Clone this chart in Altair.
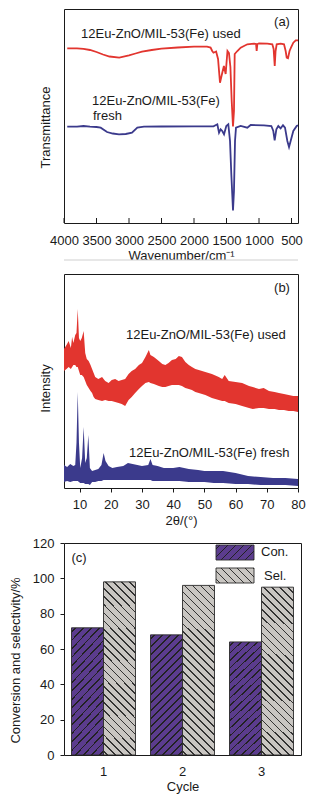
import altair as alt
import pandas as pd

FONT = "Liberation Sans"
INK = "#1a1a1a"
RED = "#e2352f"
BLUE = "#3b3a8c"
PURPLE = "#5b3c8e"
GRAY = "#c9c6c2"

# ---------------- (a) FTIR spectra (transmittance in arbitrary units) ----------------
ir_used_wn = [3950, 3800, 3700, 3600, 3500, 3400, 3300, 3150, 3000, 2900,
              2800, 2650, 2500, 2250, 2000, 1800, 1745, 1720, 1700, 1660,
              1630, 1600, 1580, 1565, 1540, 1513, 1495, 1485, 1462, 1440,
              1420, 1400, 1385, 1374, 1333, 1282, 1180, 1077, 1045, 1036,
              1025, 1000, 872, 795, 775, 758, 745, 728, 667, 615,
              590, 574, 554, 530, 508, 472, 435, 400]
ir_used_t = [174.7, 174.7, 174.2, 173, 171, 168.5, 166.5, 165.3, 167.7, 169.5,
             171.3, 173, 174.3, 175.5, 176.3, 176.3, 175.5, 172, 170.3, 171.5,
             164, 140.3, 146, 150.3, 157, 149, 164, 172, 170, 156,
             122, 96.5, 112, 169, 172, 175.3, 178.7, 179.3, 179, 172,
             179, 179.7, 179.3, 178.7, 174, 157, 172, 178.7, 179.3, 178.7,
             172, 165.3, 164.7, 172, 175.3, 180.3, 182.7, 182.7]
ir_fresh_wn = [3950, 3800, 3700, 3600, 3500, 3436, 3338, 3250, 3154, 3050,
               2954, 2872, 2770, 2500, 2000, 1700, 1641, 1615, 1590, 1565,
               1538, 1503, 1472, 1446, 1426, 1400, 1385, 1369, 1354, 1282,
               1180, 1128, 923, 810, 780, 759, 733, 703, 667, 631,
               600, 564, 538, 513, 472, 420, 400]
ir_fresh_t = [96.3, 96.3, 97, 96.3, 96, 95.3, 91, 89.5, 88.7, 89,
              90.3, 95.3, 96.3, 96.5, 96.7, 96.7, 98.7, 90.3, 93.7, 92,
              88.7, 97, 98.7, 82, 49, 12.5, 32, 82, 95.3, 97,
              95.3, 98, 97.7, 97, 92, 82.7, 93.7, 97, 94.7, 97.7,
              95.3, 82, 76, 82, 92, 97, 97.7]
ir_ticks = [4000, 3500, 3000, 2500, 2000, 1500, 1000, 500]

# ---------------- (b) XRD patterns (noise band: upper / lower envelope) ----------------
xrd_used_2t = [5.0, 5.8, 6.5, 7.2, 7.6, 8.0, 8.6, 9.0, 9.4, 9.8,
               10.2, 10.7, 11.3, 11.8, 12.3, 12.9, 13.5, 14.0, 14.5, 15.0,
               16.0, 17.2, 18.2, 19.3, 20.3, 21.4, 22.5, 23.5, 24.6, 25.7,
               26.7, 27.8, 29.0, 30.0, 31.1, 32.2, 32.7, 33.8, 35.4, 36.5,
               37.5, 38.5, 39.6, 40.8, 41.8, 42.8, 43.9, 45.0, 46.0, 47.1,
               48.2, 50.3, 52.4, 54.6, 55.7, 56.5, 57.8, 60.0, 62.1, 64.3,
               65.5, 67.5, 69.0, 70.7, 72.5, 73.9, 75.5, 77.0, 78.5, 80.0]
xrd_used_hi = [139, 143, 147, 140, 151, 145, 153, 155, 179, 150,
               147, 150, 157, 135, 129, 127, 123, 119, 115, 111,
               109, 111, 107, 105, 108, 109, 107, 108, 109, 114,
               117, 119, 123, 125, 131, 138, 133, 131, 127, 124,
               123, 125, 128, 129, 132, 131, 126, 123, 121, 119,
               118, 116, 114, 111, 109, 113, 107, 106, 105, 102,
               101, 99, 100, 97, 96, 95, 94, 93, 92, 92]
xrd_used_lo = [117, 119, 121, 119, 121, 123, 123, 121, 121, 117,
               113, 113, 111, 107, 103, 100, 97, 95, 91, 89,
               88, 87, 88, 87, 87, 86, 85, 84, 82, 88,
               91, 95, 99, 102, 105, 106, 105, 104, 102, 101,
               101, 102, 103, 103, 103, 102, 100, 99, 98, 96,
               95, 93, 90, 88, 87, 87, 85, 84, 82, 80,
               79, 80, 80, 79, 79, 78, 78, 77, 77, 76]
xrd_fresh_2t = [5.0, 6.0, 7.0, 8.0, 8.6, 9.0, 9.4, 9.8, 10.2, 10.8,
                11.3, 11.8, 12.3, 12.8, 13.3, 14.0, 15.0, 16.0, 17.0, 17.7,
                18.3, 19.3, 20.5, 22.0, 24.0, 25.5, 27.0, 28.5, 30.0, 32.0,
                32.7, 33.4, 35.0, 37.0, 40.0, 42.0, 45.0, 48.0, 50.0, 53.0,
                56.0, 60.0, 64.0, 68.0, 72.0, 76.0, 80.0]
xrd_fresh_hi = [23, 21, 24, 22, 23, 45, 96, 45, 20, 30,
                61, 25, 30, 53, 20, 17, 18, 19, 23, 35,
                27, 22, 20, 21, 22, 25, 24, 23, 22, 23,
                29, 23, 22, 20, 20, 21, 19, 18, 17, 17,
                17, 15, 12, 11, 10, 10, 9]
xrd_fresh_lo = [6, 7, 6, 7, 7, 7, 7, 6, 5, 5,
                5, 4, 4, 4, 3, 6, 6, 7, 7, 8,
                8, 8, 8, 8, 8, 8, 8, 8, 8, 8,
                8, 7, 7, 7, 7, 7, 6, 6, 6, 5,
                5, 4, 4, 3, 3, 3, 2]
xrd_ticks = [10, 20, 30, 40, 50, 60, 70, 80]

# ---------------- (c) catalytic cycles ----------------
cycles = ["1", "2", "3"]
conversion = [72, 68, 64]
selectivity = [98, 96, 95]
series_names = ["Con.", "Sel."]
y_ticks_c = [0, 20, 40, 60, 80, 100, 120]

sample_used = "12Eu-ZnO/MIL-53(Fe) used"
sample_fresh = "12Eu-ZnO/MIL-53(Fe) fresh"

WA, HA = 234, 214
WB, HB = 234, 214
WC, HC = 237, 212


def label(text, x, y, align="left", size=13):
    return alt.Chart(pd.DataFrame({"s": [text]})).mark_text(
        align=align, baseline="middle", fontSize=size, font=FONT, color=INK
    ).encode(text="s:N", x=alt.value(x), y=alt.value(y))


def spacer(y):
    return alt.Chart(pd.DataFrame({"s": [0]})).mark_rect(color="white").encode(
        x=alt.value(0), x2=alt.value(1), y=alt.value(y), y2=alt.value(y + 1))


def hatch(w, h, spacing, frac, bg, fg, forward=True):
    k = (w + h) / (w * w + h * h)
    a, b = k * w, k * h
    n = (w + h) / spacing
    stops = []
    i = 0
    while i / n < 1:
        s = i / n
        c0 = min((i + 0.5 - frac / 2) / n, 1)
        c1 = min((i + 0.5 + frac / 2) / n, 1)
        stops += [{"offset": s, "color": bg}, {"offset": c0, "color": bg},
                  {"offset": c0, "color": fg}, {"offset": c1, "color": fg},
                  {"offset": c1, "color": bg}]
        i += 1
    stops.append({"offset": 1, "color": bg})
    if forward:
        x1, y1, x2, y2 = 0, 0, a, b
    else:
        x1, y1, x2, y2 = 0, 1, a, 1 - b
    return {"gradient": "linear", "x1": x1, "y1": y1, "x2": x2, "y2": y2, "stops": stops}


# ---------------- panel (a) ----------------
xa_scale = alt.Scale(domain=[400, 4000], reverse=True, nice=False, zero=False)
ya_scale = alt.Scale(domain=[0, 214], nice=False, zero=False)
xa_axis = alt.Axis(values=ir_ticks, format="d", title="Wavenumber/cm⁻¹", ticks=False, tickSize=0,
                   domain=False, labelPadding=11, titlePadding=2, labelFlush=False, labelOverlap=False)
ya_axis = alt.Axis(labels=False, ticks=False, domain=False, title="Transmittance",
                   titlePadding=12, titleY=118)

ir_fresh = pd.DataFrame({"wn": ir_fresh_wn, "t": ir_fresh_t})
ir_used = pd.DataFrame({"wn": ir_used_wn, "t": ir_used_t})
ir_tick_df = pd.DataFrame({"wn": ir_ticks})

a_fresh = alt.Chart(ir_fresh).mark_line(color=BLUE, strokeWidth=1.8).encode(
    x=alt.X("wn:Q", scale=xa_scale, axis=xa_axis),
    y=alt.Y("t:Q", scale=ya_scale, axis=ya_axis))
a_used = alt.Chart(ir_used).mark_line(color=RED, strokeWidth=1.8).encode(
    x=alt.X("wn:Q", scale=xa_scale, axis=xa_axis),
    y=alt.Y("t:Q", scale=ya_scale, axis=ya_axis))
a_ticks = alt.Chart(ir_tick_df).mark_rule(color=INK, strokeWidth=1).encode(
    x=alt.X("wn:Q", scale=xa_scale, axis=xa_axis), y=alt.value(HA), y2=alt.value(HA - 5))
a_sep = alt.Chart(pd.DataFrame({"s": [0]})).mark_rule(color="#cfcfcf", strokeWidth=1).encode(
    x=alt.value(0), x2=alt.value(WA), y=alt.value(251))

panel_a = alt.layer(
    a_fresh, a_used, a_ticks, a_sep,
    label(sample_used, 17, 25),
    label("12Eu-ZnO/MIL-53(Fe)", 28, 92),
    label("fresh", 29, 107),
    label("(a)", 218, 13, align="center"),
    spacer(HA + 48),
).properties(width=WA, height=HA)

# ---------------- panel (b) ----------------
xb_scale = alt.Scale(domain=[5, 80], nice=False, zero=False)
yb_scale = alt.Scale(domain=[0, 214], nice=False, zero=False)
xb_axis = alt.Axis(values=xrd_ticks, title="2θ/(°)", tickSize=4, domain=False,
                   labelPadding=6, titlePadding=3, labelFlush=False)
yb_axis = alt.Axis(labels=False, ticks=False, domain=False, title="Intensity",
                   titlePadding=12, titleY=114)

xrd_used = pd.DataFrame({"tt": xrd_used_2t, "hi": xrd_used_hi, "lo": xrd_used_lo})
xrd_fresh = pd.DataFrame({"tt": xrd_fresh_2t, "hi": xrd_fresh_hi, "lo": xrd_fresh_lo})

b_used = alt.Chart(xrd_used).mark_area(color=RED, opacity=1).encode(
    x=alt.X("tt:Q", scale=xb_scale, axis=xb_axis),
    y=alt.Y("hi:Q", scale=yb_scale, axis=yb_axis), y2="lo:Q")
b_fresh = alt.Chart(xrd_fresh).mark_area(color=BLUE, opacity=1).encode(
    x=alt.X("tt:Q", scale=xb_scale, axis=xb_axis),
    y=alt.Y("hi:Q", scale=yb_scale, axis=yb_axis), y2="lo:Q")

panel_b = alt.layer(
    b_used, b_fresh,
    label(sample_used, 62, 61),
    label(sample_fresh, 65, 179),
    label("(b)", 218, 14, align="center"),
    spacer(HB + 42),
).properties(width=WB, height=HB)

# ---------------- panel (c) ----------------
rows = []
for c, v in zip(cycles, conversion):
    rows.append({"cycle": c, "series": series_names[0], "value": v})
for c, v in zip(cycles, selectivity):
    rows.append({"cycle": c, "series": series_names[1], "value": v})
bars_df = pd.DataFrame(rows)

grad_con = hatch(32, 120, 8, 0.2, PURPLE, "#222222", forward=True)
grad_sel = hatch(32, 170, 8, 0.2, GRAY, "#333333", forward=False)
grad_con_leg = hatch(38, 15, 8, 0.2, PURPLE, "#222222", forward=True)
grad_sel_leg = hatch(38, 15, 8, 0.2, GRAY, "#333333", forward=False)

c_bars = alt.Chart(bars_df).mark_bar(stroke="#2a2a2a", strokeWidth=0.9).encode(
    x=alt.X("cycle:N", sort=cycles,
            scale=alt.Scale(paddingInner=0.19, paddingOuter=0.095),
            axis=alt.Axis(labelAngle=0, ticks=False, domain=False, labelPadding=10,
                          title="Cycle", titlePadding=2)),
    xOffset=alt.XOffset("series:N", sort=series_names,
                        scale=alt.Scale(paddingInner=0, paddingOuter=0)),
    y=alt.Y("value:Q", scale=alt.Scale(domain=[0, 120], nice=False),
            axis=alt.Axis(values=y_ticks_c, tickSize=4, labelPadding=6, domain=False,
                          title="Conversion and selectivity/%", titlePadding=10, titleY=117)),
    fill=alt.condition(alt.datum.series == series_names[0], alt.value(grad_con), alt.value(grad_sel)),
)

one = pd.DataFrame({"s": [0]})
leg_con = alt.Chart(one).mark_rect(stroke="#2a2a2a", strokeWidth=0.9).encode(
    x=alt.value(152), x2=alt.value(190), y=alt.value(2), y2=alt.value(17),
    fill=alt.value(grad_con_leg))
leg_sel = alt.Chart(one).mark_rect(stroke="#2a2a2a", strokeWidth=0.9).encode(
    x=alt.value(152), x2=alt.value(190), y=alt.value(25), y2=alt.value(40),
    fill=alt.value(grad_sel_leg))

panel_c = alt.layer(
    c_bars, leg_con, leg_sel,
    label(series_names[0], 197, 9),
    label(series_names[1], 200, 33),
    label("(c)", 15, 15, align="center"),
    spacer(-10),
).properties(width=WC, height=HC)

chart = alt.vconcat(panel_a, panel_b, panel_c, spacing=0, bounds="full").properties(
    padding={"left": 0, "top": 0, "right": 5, "bottom": 5}
).configure_view(
    stroke=INK, strokeWidth=1
).configure_axis(
    labelFont=FONT, titleFont=FONT, labelFontSize=13, titleFontSize=13,
    titleFontWeight="normal", labelColor=INK, titleColor=INK,
    tickColor=INK, domainColor=INK, grid=False
).configure_text(font=FONT)

chart.save("out.html", embed_options={"renderer": "svg", "actions": False})
